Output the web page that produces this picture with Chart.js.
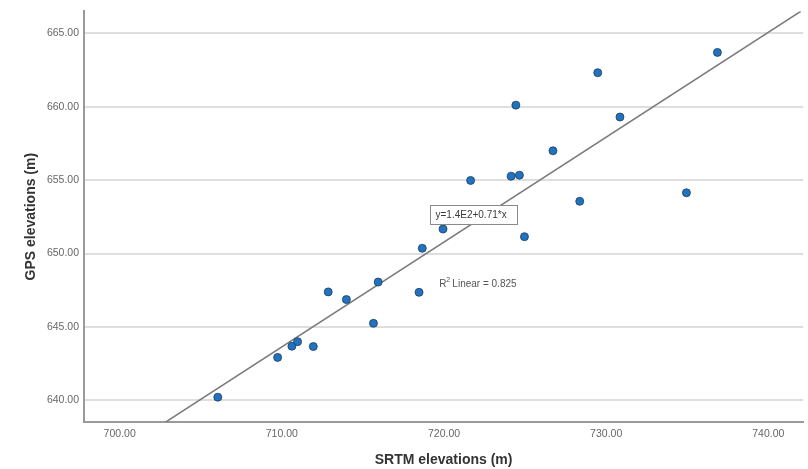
<!DOCTYPE html>
<html>
<head>
<meta charset="utf-8">
<script src="https://cdn.jsdelivr.net/npm/chart.js@4.4.1/dist/chart.umd.min.js"></script>
<style>
  html, body { margin: 0; padding: 0; background: #fff; }
  #wrap { width: 808px; height: 469px; position: relative; }
</style>
</head>
<body>
<div id="wrap"><canvas id="chart"></canvas></div>
<script>
// SRTM (x) vs GPS (y) elevations, metres
const srtm = [706.05, 709.74, 710.62, 710.97, 711.94, 712.86, 713.98, 715.65, 715.94, 718.46, 718.66, 719.94,
  721.64, 724.14, 724.43, 724.65, 724.96, 726.72, 728.37, 729.48, 730.85, 734.95, 736.86];
const gps = [640.22, 642.93, 643.69, 644.0, 643.67, 647.39, 646.87, 645.25, 648.06, 647.36, 650.36, 651.67,
  654.98, 655.27, 660.11, 655.34, 651.15, 657.0, 653.56, 662.32, 659.3, 654.14, 663.7];

// fit line end points
const fitX = [702.8, 742.0];
const fitY = [638.5, 666.5];

const xTicks = [700, 710, 720, 730, 740];
const yTicks = [640, 645, 650, 655, 660, 665];

const equationText = 'y=1.4E2+0.71*x';
const r2Text = 'Linear = 0.825';

const FONT = "'Liberation Sans', Arial, sans-serif";

const points = srtm.map((x, i) => ({ x, y: gps[i] }));
const fitLine = fitX.map((x, i) => ({ x, y: fitY[i] }));

// equation box + R squared label
const labelsPlugin = {
  id: 'fitLabels',
  afterDatasetsDraw(chart) {
    const { ctx, scales } = chart;
    const xs = scales.x, ys = scales.y;
    ctx.save();
    ctx.font = '10px ' + FONT;
    ctx.textBaseline = 'middle';

    // equation box
    const bx = Math.round(xs.getPixelForValue(719.12)) + 0.5;
    const by = Math.round(ys.getPixelForValue(653.3)) + 0.5;
    const bw = 87, bh = 19;
    ctx.fillStyle = '#fff';
    ctx.fillRect(bx, by, bw, bh);
    ctx.strokeStyle = '#8a8a8a';
    ctx.lineWidth = 1;
    ctx.strokeRect(bx, by, bw, bh);
    ctx.fillStyle = '#3a3a3a';
    ctx.textAlign = 'left';
    ctx.fillText(equationText, bx + 5, by + bh / 2 + 0.5);

    // R² Linear
    const rx = xs.getPixelForValue(719.7);
    const ry = ys.getPixelForValue(647.9);
    ctx.fillStyle = '#555';
    ctx.fillText('R', rx, ry);
    const rw = ctx.measureText('R').width;
    ctx.font = '7px ' + FONT;
    ctx.fillText('2', rx + rw, ry - 4);
    ctx.font = '10px ' + FONT;
    ctx.fillText(r2Text, rx + rw + 6, ry);
    ctx.restore();
  },
};

new Chart(document.getElementById('chart'), {
  type: 'scatter',
  data: {
    datasets: [
      {
        label: 'Fit',
        type: 'line',
        data: fitLine,
        borderColor: '#7a7a7a',
        borderWidth: 1.5,
        pointRadius: 0,
        fill: false,
        order: 2,
      },
      {
        label: 'Points',
        data: points,
        backgroundColor: '#2272bd',
        borderColor: '#1b3d66',
        borderWidth: 0.8,
        pointRadius: 4,
        order: 1,
      },
    ],
  },
  options: {
    responsive: true,
    maintainAspectRatio: false,
    animation: false,
    layout: { padding: { top: 7, right: 3, left: 0, bottom: 0 } },
    plugins: {
      legend: { display: false },
      tooltip: { enabled: false },
    },
    scales: {
      x: {
        type: 'linear',
        min: 697.8,
        max: 742.15,
        afterBuildTicks: (s) => { s.ticks = xTicks.map((v) => ({ value: v })); },
        afterFit: (s) => { s.height = 47; },
        grid: { display: false, drawTicks: false },
        border: { display: true, color: '#9a9a9a', width: 2 },
        ticks: {
          color: '#666',
          padding: 6,
          font: { family: FONT, size: 10.5 },
          callback: (v) => Number(v).toFixed(2),
        },
        title: {
          display: true,
          text: 'SRTM elevations (m)',
          color: '#333',
          font: { family: FONT, size: 14, weight: 'bold' },
          padding: { top: 0, bottom: 0 },
        },
      },
      y: {
        type: 'linear',
        min: 638.53,
        max: 666.5,
        afterBuildTicks: (s) => { s.ticks = yTicks.map((v) => ({ value: v })); },
        afterFit: (s) => { s.width = 84; },
        grid: { display: true, color: '#dedede', lineWidth: 2, drawTicks: false },
        border: { display: true, color: '#9a9a9a', width: 2 },
        ticks: {
          color: '#666',
          padding: 5,
          font: { family: FONT, size: 10.5 },
          callback: (v) => Number(v).toFixed(2),
        },
        title: {
          display: true,
          text: 'GPS elevations (m)',
          color: '#333',
          font: { family: FONT, size: 14, weight: 'bold' },
          padding: { top: 23, bottom: 0 },
        },
      },
    },
  },
  plugins: [labelsPlugin],
});
</script>
</body>
</html>
